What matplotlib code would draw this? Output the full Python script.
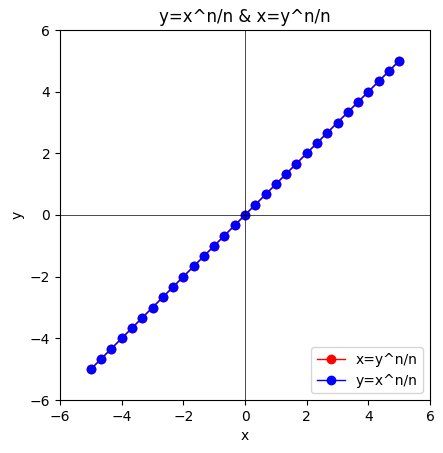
import matplotlib
matplotlib.use("Agg")
import matplotlib.pyplot as plt

x_vals = [-5.0, -4.667, -4.333, -4.0, -3.667, -3.333, -3.0, -2.667, -2.333, -2.0,
          -1.667, -1.333, -1.0, -0.667, -0.333, 0.0, 0.333, 0.667, 1.0, 1.333,
          1.667, 2.0, 2.333, 2.667, 3.0, 3.333, 3.667, 4.0, 4.333, 4.667, 5.0]
y_vals = [-5.0, -4.667, -4.333, -4.0, -3.667, -3.333, -3.0, -2.667, -2.333, -2.0,
          -1.667, -1.333, -1.0, -0.667, -0.333, 0.0, 0.333, 0.667, 1.0, 1.333,
          1.667, 2.0, 2.333, 2.667, 3.0, 3.333, 3.667, 4.0, 4.333, 4.667, 5.0]

fig = plt.figure(figsize=(4.43, 4.53), dpi=100)
ax = fig.add_axes([60/443, 53/453, 370/443, 370/453])
ax.plot(y_vals, x_vals, 'o-', color='red', linewidth=1, markersize=6, label='x=y^n/n')
ax.plot(x_vals, y_vals, 'o-', color='blue', linewidth=1, markersize=6, label='y=x^n/n')
ax.axhline(0, color='black', linewidth=0.5)
ax.axvline(0, color='black', linewidth=0.5)
ax.set_xlim(-6, 6)
ax.set_ylim(-6, 6)
ax.set_xticks([-6, -4, -2, 0, 2, 4, 6])
ax.set_yticks([-6, -4, -2, 0, 2, 4, 6])
ax.set_xlabel('x')
ax.set_ylabel('y')
ax.set_title('y=x^n/n & x=y^n/n')
ax.legend(loc='lower right')
fig.savefig('out.png', dpi=100)
